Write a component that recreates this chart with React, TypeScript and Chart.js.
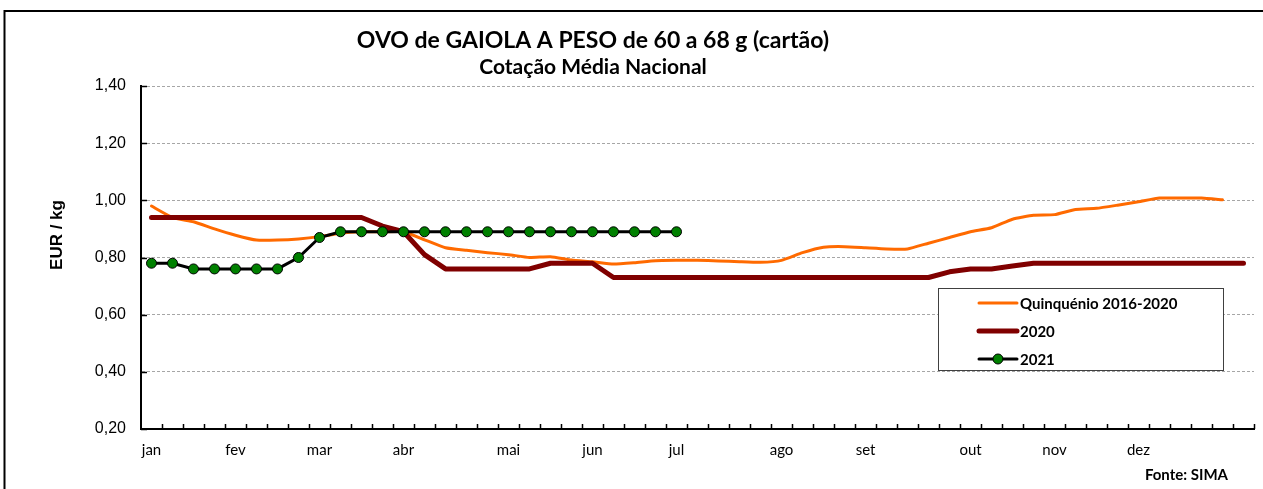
import React, { useEffect, useRef } from "react";
import { Chart, registerables } from "chart.js";

Chart.register(...registerables);

// ---- Data ----
const weeks: number[] = [
  1, 2, 3, 4, 5, 6, 7, 8, 9, 10, 11, 12, 13, 14, 15, 16, 17, 18, 19, 20, 21, 22, 23, 24, 25, 26,
  27, 28, 29, 30, 31, 32, 33, 34, 35, 36, 37, 38, 39, 40, 41, 42, 43, 44, 45, 46, 47, 48, 49, 50,
  51, 52, 53,
];
const monthNames: string[] = ["jan", "fev", "mar", "abr", "mai", "jun", "jul", "ago", "set", "out", "nov", "dez"];
const monthStartWeek: number[] = [1, 5, 9, 13, 18, 22, 26, 31, 35, 40, 44, 48];

const quinquenio: (number | null)[] = [
  0.98, 0.94, 0.925, 0.9, 0.878, 0.861, 0.861, 0.865, 0.873, 0.885, 0.89, 0.89, 0.89, 0.862,
  0.834, 0.825, 0.817, 0.81, 0.8, 0.803, 0.791, 0.785, 0.777, 0.782, 0.789, 0.79, 0.79, 0.788,
  0.785, 0.783, 0.79, 0.817, 0.836, 0.838, 0.834, 0.83, 0.83, 0.85, 0.87, 0.89, 0.904, 0.934,
  0.948, 0.95, 0.968, 0.972, 0.983, 0.995, 1.008, 1.008, 1.008, 1.002, null,
];
const serie2020: number[] = [
  0.94, 0.94, 0.94, 0.94, 0.94, 0.94, 0.94, 0.94, 0.94, 0.94, 0.94, 0.91, 0.89, 0.81, 0.76, 0.76,
  0.76, 0.76, 0.76, 0.78, 0.78, 0.78, 0.73, 0.73, 0.73, 0.73, 0.73, 0.73, 0.73, 0.73, 0.73, 0.73,
  0.73, 0.73, 0.73, 0.73, 0.73, 0.73, 0.75, 0.76, 0.76, 0.77, 0.78, 0.78, 0.78, 0.78, 0.78, 0.78,
  0.78, 0.78, 0.78, 0.78, 0.78,
];
const serie2021: number[] = [
  0.78, 0.78, 0.76, 0.76, 0.76, 0.76, 0.76, 0.8, 0.87, 0.89, 0.89, 0.89, 0.89, 0.89, 0.89, 0.89,
  0.89, 0.89, 0.89, 0.89, 0.89, 0.89, 0.89, 0.89, 0.89, 0.89,
];

const yTicks: number[] = [0.2, 0.4, 0.6, 0.8, 1.0, 1.2, 1.4];

const titleText = "OVO de GAIOLA A PESO de 60 a 68 g (cartão)";
const subtitleText = "Cotação Média Nacional";
const yTitleText = "EUR / kg";
const sourceText = "Fonte: SIMA";

const COLOR_Q = "#FF6A00";
const COLOR_2020 = "#800000";
const COLOR_2021_LINE = "#000000";
const COLOR_2021_POINT = "#008000";

const weekLabels: string[] = weeks.map((w) => {
  const idx = monthStartWeek.indexOf(w);
  return idx >= 0 ? monthNames[idx] : "";
});

const legendItems = [
  { label: "Quinquénio 2016-2020", color: COLOR_Q, width: 3, point: false },
  { label: "2020", color: COLOR_2020, width: 5, point: false },
  { label: "2021", color: COLOR_2021_LINE, width: 3, point: true },
];

const decorPlugin = {
  id: "decor",
  beforeDraw(chart: any) {
    const { ctx, width, height } = chart;
    ctx.save();
    ctx.fillStyle = "#ffffff";
    ctx.fillRect(0, 0, width, height);
    ctx.strokeStyle = "#000000";
    ctx.lineWidth = 2;
    ctx.beginPath();
    ctx.moveTo(4.5, height + 5);
    ctx.lineTo(4.5, 11);
    ctx.lineTo(width + 5, 11);
    ctx.stroke();
    ctx.restore();
  },
  afterDraw(chart: any) {
    const { ctx } = chart;
    const xs = chart.scales.x;
    const ys = chart.scales.y;
    const area = chart.chartArea;
    ctx.save();
    // inner tick marks on x axis (category boundaries)
    ctx.strokeStyle = "#000";
    ctx.lineWidth = 1.5;
    const n = weeks.length;
    const w = (area.right - area.left) / n;
    ctx.beginPath();
    for (let i = 1; i <= n; i++) {
      const x = Math.round(area.left + i * w) + 0.5;
      ctx.moveTo(x, area.bottom);
      ctx.lineTo(x, area.bottom - 5);
    }
    // inner tick marks on y axis
    for (const t of ys.ticks) {
      const y = Math.round(ys.getPixelForValue(t.value)) + 0.5;
      ctx.moveTo(area.left, y);
      ctx.lineTo(area.left + 6, y);
    }
    ctx.stroke();

    // titles
    ctx.fillStyle = "#000";
    ctx.textAlign = "center";
    ctx.textBaseline = "alphabetic";
    ctx.font = "bold 23px Lato";
    ctx.fillText(titleText, 593, 48);
    ctx.font = "bold 21px Lato";
    ctx.fillText(subtitleText, 593, 74);

    // y title
    ctx.save();
    ctx.translate(62, 235);
    ctx.rotate(-Math.PI / 2);
    ctx.font = "bold 17px 'Liberation Sans'";
    ctx.textAlign = "center";
    ctx.fillText(yTitleText, 0, 0);
    ctx.restore();

    // source
    ctx.textAlign = "right";
    ctx.font = "bold 15px Lato";
    ctx.fillText(sourceText, 1228, 480);

    // legend
    const bx = 938.5, by = 288.5, bw = 285, bh = 82;
    ctx.fillStyle = "#fff";
    ctx.fillRect(bx, by, bw, bh);
    ctx.strokeStyle = "#404040";
    ctx.lineWidth = 1;
    ctx.strokeRect(bx, by, bw, bh);
    legendItems.forEach((it, i) => {
      const cy = 303 + i * 28;
      ctx.strokeStyle = it.color;
      ctx.lineWidth = it.width;
      ctx.lineCap = "round";
      ctx.beginPath();
      ctx.moveTo(979, cy);
      ctx.lineTo(1017, cy);
      ctx.stroke();
      if (it.point) {
        ctx.beginPath();
        ctx.arc(998, cy, 5, 0, Math.PI * 2);
        ctx.fillStyle = COLOR_2021_POINT;
        ctx.fill();
        ctx.lineWidth = 1;
        ctx.strokeStyle = "#000";
        ctx.stroke();
      }
      ctx.fillStyle = "#000";
      ctx.textAlign = "left";
      ctx.textBaseline = "middle";
      ctx.font = "bold 15px Lato";
      ctx.fillText(it.label, 1020, cy + 1);
    });
    ctx.restore();
  },
};

export default function App() {
  const canvasRef = useRef<HTMLCanvasElement | null>(null);

  useEffect(() => {
    if (!canvasRef.current) return;
    const chart = new Chart(canvasRef.current, {
      type: "line",
      data: {
        labels: weekLabels,
        datasets: [
          {
            label: "Quinquénio 2016-2020",
            data: quinquenio,
            borderColor: COLOR_Q,
            backgroundColor: COLOR_Q,
            borderWidth: 3,
            pointRadius: 0,
            tension: 0.15,
            borderJoinStyle: "round",
            borderCapStyle: "round",
            order: 2,
          },
          {
            label: "2020",
            data: serie2020,
            borderColor: COLOR_2020,
            backgroundColor: COLOR_2020,
            borderWidth: 5,
            pointRadius: 0,
            tension: 0,
            borderJoinStyle: "round",
            borderCapStyle: "round",
            order: 1,
          },
          {
            label: "2021",
            data: serie2021,
            borderColor: COLOR_2021_LINE,
            backgroundColor: COLOR_2021_POINT,
            borderWidth: 3,
            pointRadius: 5,
            pointBorderWidth: 1,
            pointBorderColor: "#000",
            pointBackgroundColor: COLOR_2021_POINT,
            tension: 0,
            order: 0,
          },
        ],
      },
      options: {
        responsive: false,
        animation: false,
        layout: { padding: { top: 86, right: 9, left: 0, bottom: 0 } },
        plugins: {
          legend: { display: false },
          title: { display: false },
          tooltip: { enabled: false },
        },
        scales: {
          x: {
            type: "category",
            offset: true,
            grid: { display: false, drawTicks: false },
            border: { display: true, color: "#000", width: 2 },
            ticks: {
              autoSkip: false,
              maxRotation: 0,
              minRotation: 0,
              padding: 12,
              color: "#000",
              font: { family: "Lato", size: 15 },
            },
            afterFit: (s: any) => {
              s.height = 60;
            },
          },
          y: {
            min: 0.2,
            max: 1.4,
            afterBuildTicks: (s: any) => {
              s.ticks = yTicks.map((v) => ({ value: v }));
            },
            grid: {
              color: "#a6a6a6",
              lineWidth: 1,
              drawTicks: false,
            },
            border: { display: true, color: "#000", width: 2, dash: [3, 2] },
            ticks: {
              padding: 15,
              color: "#000",
              font: { family: "'Liberation Sans'", size: 16 },
              callback: (v: any) => Number(v).toFixed(2).replace(".", ","),
            },
            afterFit: (s: any) => {
              s.width = 141;
            },
          },
        },
      },
      plugins: [decorPlugin],
    } as any);
    return () => chart.destroy();
  }, []);

  return (
    <div style={{ position: "absolute", left: 0, top: 0, width: 1263, height: 489, overflow: "hidden", background: "#fff" }}>
      <canvas ref={canvasRef} width={1263} height={489} style={{ display: "block", width: 1263, height: 489 }} />
    </div>
  );
}
